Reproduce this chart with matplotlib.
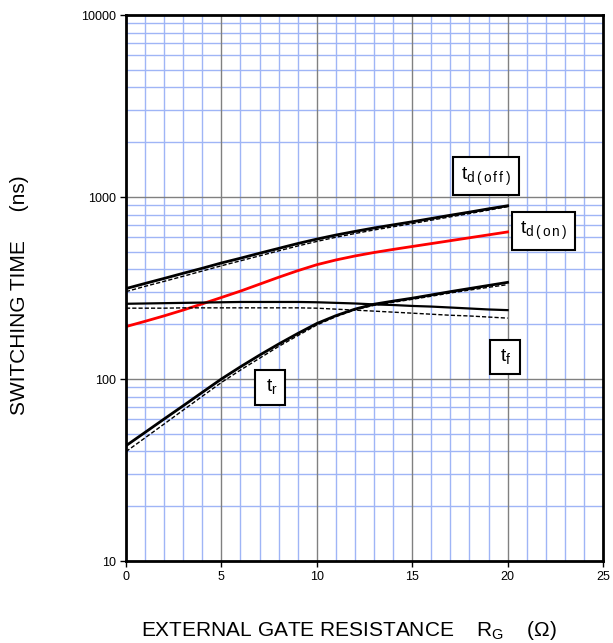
import numpy as np
import matplotlib.pyplot as plt
from matplotlib.ticker import FixedLocator, NullFormatter

plt.rcParams['font.family'] = ['Liberation Sans', 'DejaVu Sans']
plt.rcParams['mathtext.fontset'] = 'custom'
plt.rcParams['mathtext.rm'] = 'Liberation Sans'

# gate resistance (ohm)
rg = list(range(0, 21))

# switching times (ns), solid = typ curve, dashed = second condition
td_off = [314, 335, 357, 381, 406, 434, 461, 491, 522, 555, 587,
          618, 647, 676, 703, 731, 762, 794, 826, 861, 895]
td_off_b = [302, 323, 344, 367, 392, 419, 446, 475, 506, 538, 570,
            601, 630, 659, 686, 714, 746, 778, 811, 847, 885]
td_on = [194.1, 207.5, 222.3, 239.3, 258.8, 280.5, 304.1, 331.9, 362.2, 393.6, 424.6,
         450.8, 474.2, 495.5, 515.2, 534.6, 554.6, 575.4, 597, 619.4, 642.7]
tf = [259, 260, 261, 262, 263, 264, 265, 265, 265, 265, 264,
      262, 260, 257, 255, 252, 250, 247, 244, 241, 239]
tf_b = [245, 245, 245, 246, 246, 246, 246, 246, 246, 246, 245,
        242, 239, 236, 233, 230, 227, 224, 222, 219, 216]
tr = [43, 50.9, 60.3, 71.3, 84.5, 100, 116.7, 135.2, 155.6, 177.8, 201.8,
      222.8, 242.1, 257.6, 267.9, 278, 289.7, 302, 314.1, 326.6, 339.6]
tr_b = [39.9, 47.5, 56.6, 67.5, 80.4, 95.7, 112, 130, 151, 173, 198,
        220, 240, 254, 264, 274, 285, 297, 308, 319, 330]

fig = plt.figure(figsize=(6.13, 6.43), dpi=100)
ax = fig.add_axes([126/613, 1-561/643, 477/613, 546/643])
ax.set_yscale('log')
ax.set_xlim(0, 25)
ax.set_ylim(10, 10000)

# grid
blue = '#9fb5f6'
for x in range(1, 25):
    if x % 5:
        ax.axvline(x, color=blue, lw=1, zorder=0)
for dec in [10, 100, 1000]:
    for m in range(2, 10):
        ax.axhline(dec*m, color=blue, lw=1, zorder=0)
for x in [5, 10, 15, 20]:
    ax.axvline(x, color='#808080', lw=1, zorder=0.5)
for y in [100, 1000]:
    ax.axhline(y, color='#808080', lw=1, zorder=0.5)

ax.plot(rg, td_off, color='black', lw=2)
ax.plot(rg, td_off_b, color='black', lw=1, ls=(0, (3, 1.5)))
ax.plot(rg, td_on, color='#ff0000', lw=2)
ax.plot(rg, tf, color='black', lw=1.6)
ax.plot(rg, tf_b, color='black', lw=1, ls=(0, (3, 1.5)))
ax.plot(rg, tr, color='black', lw=2)
ax.plot(rg, tr_b, color='black', lw=1, ls=(0, (3, 1.5)))

box = dict(boxstyle='square,pad=0.4', fc='white', ec='black', lw=1.5)
labels = [(18.87, 1300, r'$\mathrm{t}_{\mathrm{d\,(\,o\,f\,f\,)}}$'),
          (21.9, 650, r'$\mathrm{t}_{\mathrm{d\,(\,o\,n\,)}}$'),
          (19.85, 132, r'$\,\mathrm{t}_{\mathrm{f}}\,$'),
          (7.55, 90, r'$\,\mathrm{t}_{\mathrm{r}}\,$')]
for x, y, s in labels:
    ax.text(x, y, s, fontsize=14, ha='center', va='center', bbox=box, zorder=5)

ax.xaxis.set_major_locator(FixedLocator([0, 5, 10, 15, 20, 25]))
ax.yaxis.set_major_locator(FixedLocator([10, 100, 1000, 10000]))
ax.yaxis.set_minor_locator(FixedLocator([]))
ax.yaxis.set_minor_formatter(NullFormatter())
ax.set_yticklabels(['10', '100', '1000', '10000'])
ax.tick_params(labelsize=9, length=4, width=1, pad=3)
for sp in ax.spines.values():
    sp.set_linewidth(2)

fig.text(20/613, 1-295/643, 'SWITCHING TIME     (ns)', rotation=90,
         ha='center', va='center', fontsize=15)
fig.text(349/613, 1-630/643, r'EXTERNAL GATE RESISTANCE    R$_{\mathrm{G}}$    ($\Omega$)',
         ha='center', va='center', fontsize=15)

fig.savefig('out.png', dpi=100)
